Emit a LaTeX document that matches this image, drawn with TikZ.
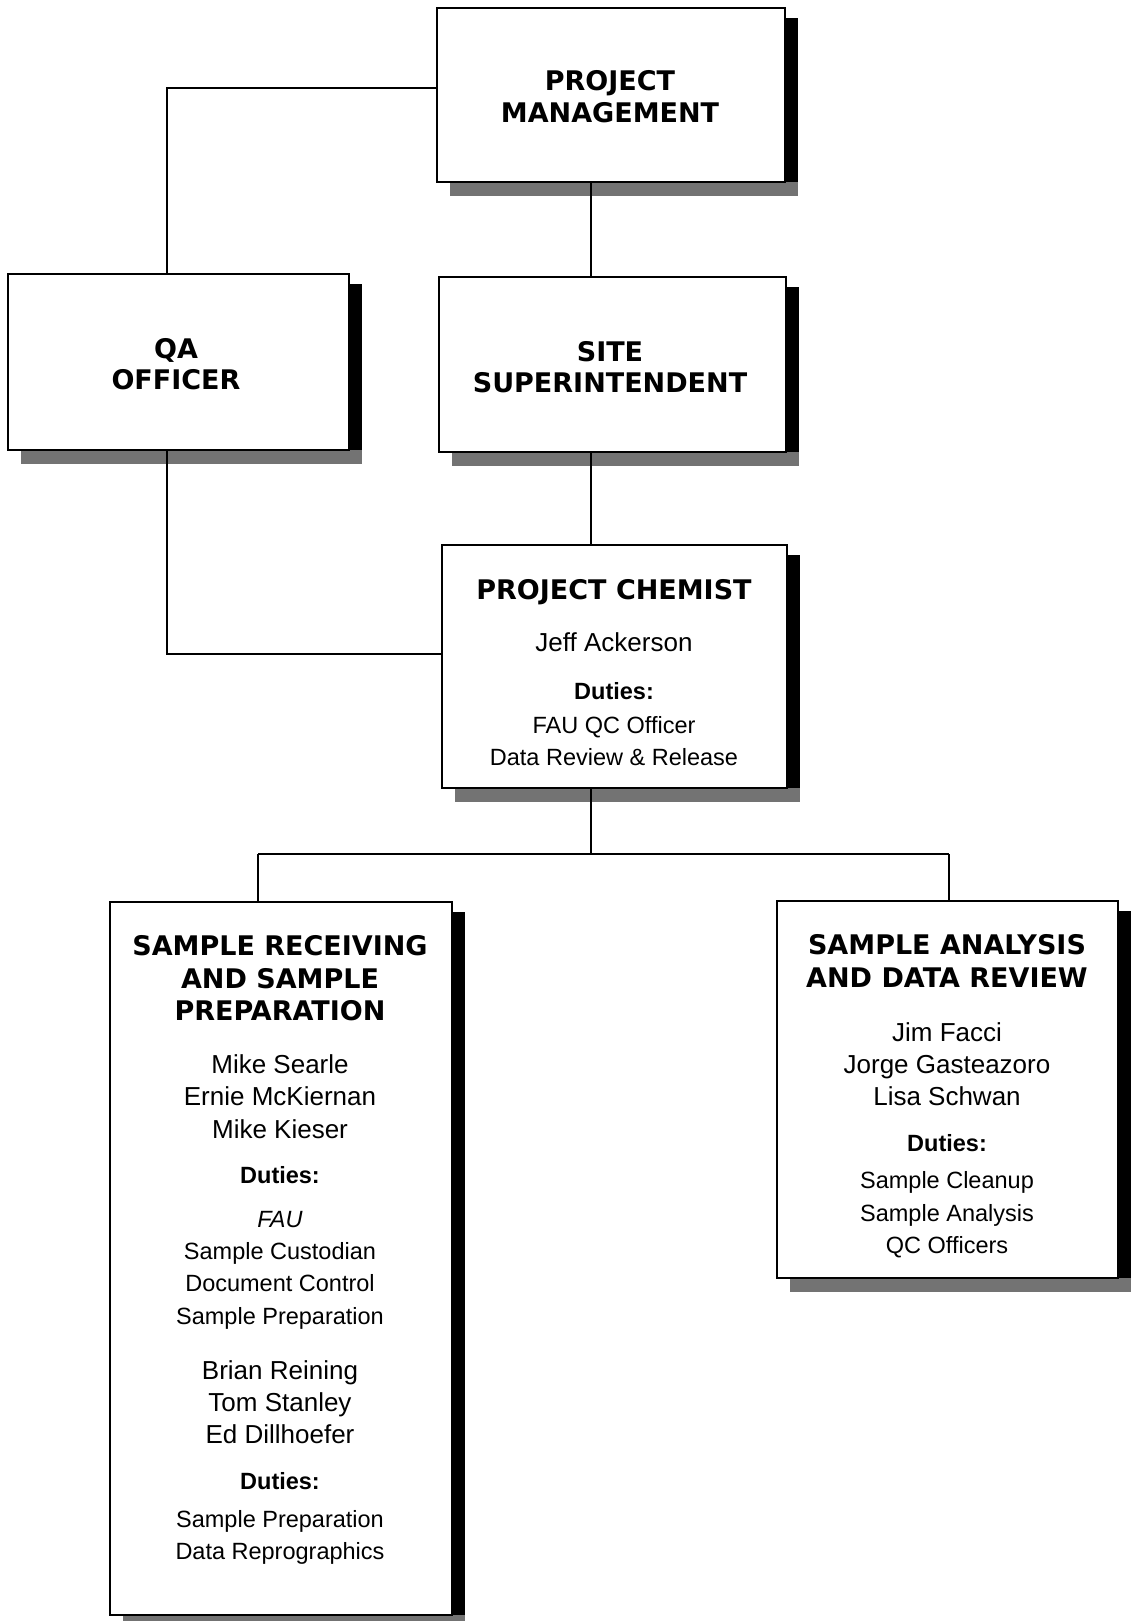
\documentclass[tikz,border=0pt]{standalone}
\usepackage{fontspec}
\setmainfont{Liberation Sans}
\newfontfamily\titlefont{DejaVu Sans}
\begin{document}
\begin{tikzpicture}[x=1pt,y=-1pt,
  orgbox/.style={draw=black,line width=2.2pt,fill=white,rectangle,inner sep=0pt,outer sep=0pt},
  link/.style={draw=black,line width=2pt},
  ttl/.style={anchor=base,inner sep=0pt,font=\titlefont\bfseries\fontsize{27}{32}\selectfont},
  nm/.style={anchor=base,inner sep=0pt,font=\fontsize{26}{31}\selectfont},
  dt/.style={anchor=base,inner sep=0pt,font=\fontsize{23.5}{28}\selectfont},
  du/.style={anchor=base,inner sep=0pt,font=\bfseries\fontsize{23.5}{28}\selectfont},
  shr/.style={fill=black},
  shb/.style={fill=black!55}]
\useasboundingbox[fill=white] (0,0) rectangle (1131,1621);

% boxes
\node[orgbox,minimum width=348pt,minimum height=174pt] (pm) at (611,95) {};
\node[orgbox,minimum width=341pt,minimum height=176pt] (qa) at (178.5,362) {};
\node[orgbox,minimum width=347pt,minimum height=175pt] (ss) at (612.5,364.5) {};
\node[orgbox,minimum width=345pt,minimum height=243pt] (pc) at (614.5,666.5) {};
\node[orgbox,minimum width=342pt,minimum height=713pt] (sr) at (281,1258.5) {};
\node[orgbox,minimum width=341pt,minimum height=377pt] (sa) at (947.5,1089.5) {};

% shadows
\foreach \b in {pm,qa,ss,pc,sr,sa}{
  \fill[shr] ([yshift=-10pt]\b.north east) rectangle ([xshift=13pt,yshift=-14pt]\b.south east);
  \fill[shb] ([xshift=13pt]\b.south west) rectangle ([xshift=13pt,yshift=-14pt]\b.south east);
}
% redraw boxes on top of shadows
\foreach \b in {pm,qa,ss,pc,sr,sa}{
  \draw[line width=2.2pt,fill=white] (\b.north west) rectangle (\b.south east);
}

% connector points
\coordinate (qtop) at (167,88);
\coordinate (qbot) at (167,654);
\coordinate (vx) at (591,0);
\coordinate (bus) at (591,854);
\coordinate (bl) at (258,854);
\coordinate (br) at (949,854);

\draw[link] (pm.west |- qtop) -- (qtop) -- (qtop |- qa.north);
\draw[link] (pm.south -| vx) -- (ss.north -| vx);
\draw[link] (ss.south -| vx) -- (pc.north -| vx);
\draw[link] (qa.south -| qbot) -- (qbot) -- (qbot -| pc.west);
\draw[link] (pc.south -| bus) -- (bus);
\draw[link] (bl) -- (br);
\draw[link] (bl) -- (bl |- sr.north);
\draw[link] (br) -- (br |- sa.north);

% texts: project management
\node[ttl] (pm1) at (610,91) {PROJECT};
\node[ttl] (pm2) at (610,123) {MANAGEMENT};
% qa
\node[ttl] (qa1) at (176,358) {QA};
\node[ttl] (qa2) at (176,389) {OFFICER};
% site
\node[ttl] (ss1) at (610,361) {SITE};
\node[ttl] (ss2) at (610,392) {SUPERINTENDENT};
% project chemist
\node[ttl] (pc1) at (614,599) {PROJECT CHEMIST};
\node[nm] (pc2) at (614,651.5) {Jeff Ackerson};
\node[du] (pc3) at (614,699.5) {Duties:};
\node[dt] (pc4) at (614,733.5) {FAU QC Officer};
\node[dt] (pc5) at (614,765.5) {Data Review \& Release};
% sample receiving
\node[ttl] (sr1) at (280,955) {SAMPLE RECEIVING};
\node[ttl] (sr2) at (280,988) {AND SAMPLE};
\node[ttl] (sr3) at (280,1020) {PREPARATION};
\node[nm] (sr4) at (280,1073.5) {Mike Searle};
\node[nm] (sr5) at (280,1105.5) {Ernie McKiernan};
\node[nm] (sr6) at (280,1138.5) {Mike Kieser};
\node[du] (sr7) at (280,1183.5) {Duties:};
\node[dt] (sr8) at (280,1227.5) {\itshape FAU};
\node[dt] (sr9) at (280,1259.5) {Sample Custodian};
\node[dt] (sr10) at (280,1291.5) {Document Control};
\node[dt] (sr11) at (280,1324.5) {Sample Preparation};
\node[nm] (sr12) at (280,1379.5) {Brian Reining};
\node[nm] (sr13) at (280,1411.5) {Tom Stanley};
\node[nm] (sr14) at (280,1443.5) {Ed Dillhoefer};
\node[du] (sr15) at (280,1489.5) {Duties:};
\node[dt] (sr16) at (280,1527.5) {Sample Preparation};
\node[dt] (sr17) at (280,1559.5) {Data Reprographics};
% sample analysis
\node[ttl] (sa1) at (947,954) {SAMPLE ANALYSIS};
\node[ttl] (sa2) at (947,987) {AND DATA REVIEW};
\node[nm] (sa3) at (947,1041.5) {Jim Facci};
\node[nm] (sa4) at (947,1073.5) {Jorge Gasteazoro};
\node[nm] (sa5) at (947,1105.5) {Lisa Schwan};
\node[du] (sa6) at (947,1151.5) {Duties:};
\node[dt] (sa7) at (947,1188.5) {Sample Cleanup};
\node[dt] (sa8) at (947,1221.5) {Sample Analysis};
\node[dt] (sa9) at (947,1253.5) {QC Officers};
\end{tikzpicture}
\end{document}
